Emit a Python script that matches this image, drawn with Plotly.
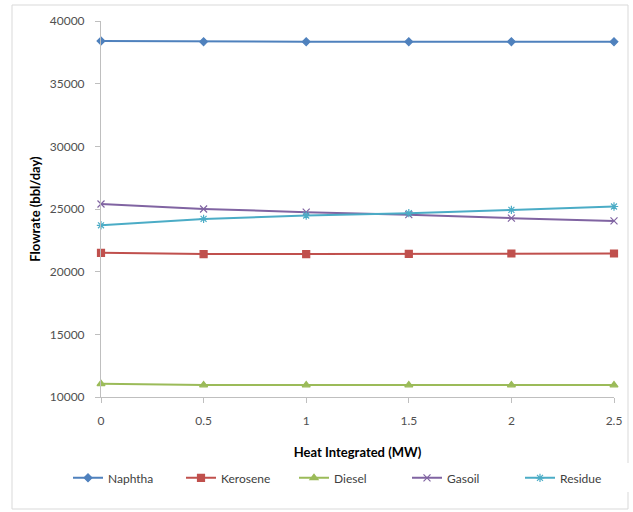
import plotly.graph_objects as go

heat = [0, 0.5, 1, 1.5, 2, 2.5]
naphtha = [38400, 38350, 38350, 38350, 38350, 38350]
kerosene = [21500, 21400, 21400, 21420, 21450, 21450]
diesel = [11050, 10950, 10950, 10950, 10950, 10950]
gasoil = [25400, 25000, 24750, 24550, 24270, 24050]
residue = [23700, 24210, 24480, 24670, 24930, 25200]

series = [
    ("Naphtha", naphtha, "#4F81BD", "diamond", 6),
    ("Kerosene", kerosene, "#C0504D", "square", 7),
    ("Diesel", diesel, "#9BBB59", "triangle-up", 7),
    ("Gasoil", gasoil, "#8064A2", "x-thin-open", 7),
    ("Residue", residue, "#4BACC6", "asterisk-open", 7),
]

fig = go.Figure()
for name, vals, color, sym, size in series:
    fig.add_trace(go.Scatter(
        x=heat, y=vals, name=name, mode="lines+markers",
        line=dict(color=color, width=2),
        marker=dict(symbol=sym, size=size, color=color,
                    line=dict(color=color, width=1.2)),
        cliponaxis=False,
    ))

font_family = "Lato, Open Sans, sans-serif"
fig.update_layout(
    width=633, height=512,
    margin=dict(l=101, r=19, t=21, b=115),
    paper_bgcolor="white", plot_bgcolor="white",
    font=dict(family=font_family, size=11, color="#505050"),
    showlegend=True,
    legend=dict(orientation="h", x=-0.055, y=-0.215, xanchor="left", yanchor="middle",
                entrywidth=68, entrywidthmode="pixels",
                font=dict(size=12, color="#404040"), itemwidth=30),
    xaxis=dict(range=[0, 2.5], tickmode="array", tickvals=heat,
               ticktext=["0", "0.5", "1", "1.5", "2", "2.5"],
               showgrid=False, zeroline=False, showline=True,
               linecolor="#BFBFBF", linewidth=1,
               ticks="outside", ticklen=5, tickcolor="#BFBFBF",
               ticklabelstandoff=8,
               tickfont=dict(size=12, color="#505050"),
               title=dict(text="<b>Heat Integrated (MW)</b>", standoff=20,
                          font=dict(size=13, color="#000000"))),
    yaxis=dict(range=[10000, 40000], dtick=5000, tickformat="d",
               showgrid=False, zeroline=False, showline=True,
               linecolor="#BFBFBF", linewidth=1,
               ticks="outside", ticklen=5, tickcolor="#BFBFBF",
               ticklabelstandoff=8,
               tickfont=dict(size=12, color="#505050"),
               title=dict(text="<b>Flowrate (bbl/day)</b>", standoff=6,
                          font=dict(size=13, color="#000000"))),
    shapes=[dict(type="rect", xref="paper", yref="paper",
                 x0=(12 - 101) / 513, x1=(628 - 101) / 513,
                 y0=(397 - 509) / 376, y1=(397 - 5) / 376,
                 line=dict(color="#D9D9D9", width=1), layer="below")],
)

fig.write_html("out.html")
